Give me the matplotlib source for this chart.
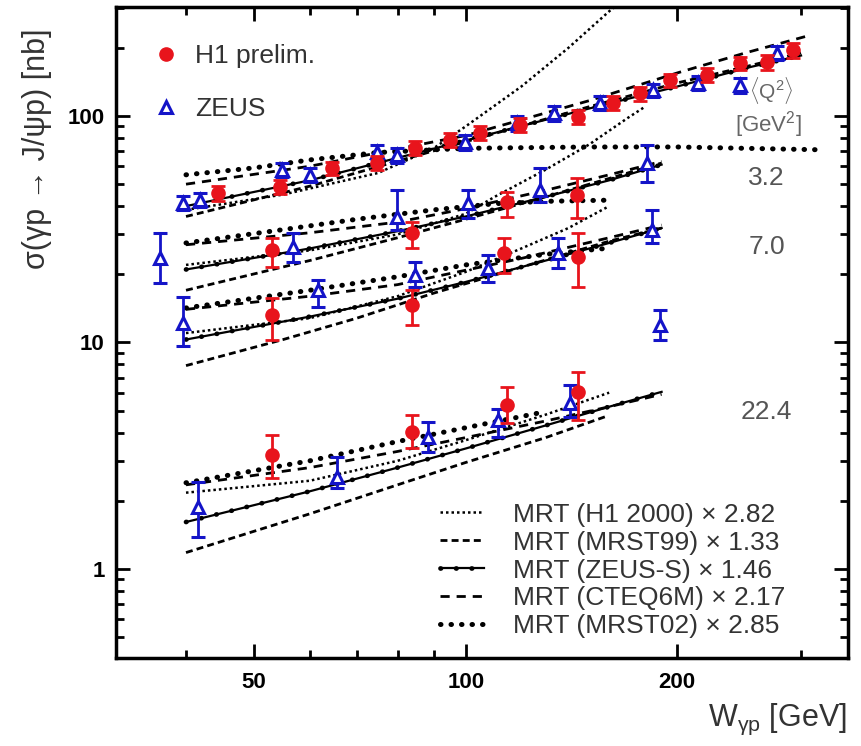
import matplotlib
matplotlib.use('Agg')
import matplotlib.pyplot as plt
from matplotlib.lines import Line2D
from matplotlib.ticker import FixedLocator, NullFormatter, LogLocator

plt.rcParams['font.family'] = ['Liberation Sans', 'DejaVu Sans']
plt.rcParams['mathtext.fontset'] = 'custom'
plt.rcParams['mathtext.rm'] = 'Liberation Sans'
plt.rcParams['mathtext.it'] = 'Liberation Sans:italic'

# H1 prelim. points (all four Q2 bins), value and lower/upper edge of error bar
h1_w = [44.4, 54.4, 64.6, 74.8, 84.7, 95.1, 104.9, 119.6, 144.7, 162.2, 177, 195.3, 220.6, 246, 268.7, 292.5,
        53.0, 83.9, 114.6, 144.2,
        53.0, 83.9, 113.3, 144.5,
        53.0, 83.9, 114.6, 144.5]
h1_sig = [45.7, 48.6, 58.9, 62.0, 72.2, 78.3, 84.1, 91.3, 99, 114, 126, 144, 151.7, 171, 173, 195,
          25.6, 30.4, 41.7, 44.8,
          13.2, 14.6, 24.8, 23.9,
          3.19, 4.03, 5.30, 6.05]
h1_lo = [42.2, 45.1, 54.9, 57.5, 67.2, 72.8, 78.1, 84.8, 92, 106, 117, 134, 140.7, 159, 160, 180,
         21.6, 26.1, 35.8, 35.5,
         10.3, 11.9, 20.3, 17.6,
         2.52, 3.42, 4.41, 4.55]
h1_hi = [49.2, 52.1, 62.9, 66.5, 77.2, 83.8, 90.1, 97.8, 106, 122, 135, 154, 162.7, 183, 186, 210,
         28.9, 33.9, 46.0, 53.3,
         15.7, 17.1, 28.9, 30.4,
         3.91, 4.79, 6.36, 7.41]

# ZEUS points
zeus_w = [39.6, 41.9, 54.8, 60.1, 74.8, 79.8, 99.8, 118.4, 133.4, 155.4, 184.8, 214, 246, 277,
          36.7, 56.8, 79.8, 100.9, 127.6, 181.3,
          39.6, 61.7, 84.7, 107.6, 135.5, 184.2, 189.2,
          41.6, 65.7, 88.4, 111.3, 140.9]
zeus_sig = [41.3, 42.6, 57.8, 54.9, 69.3, 67.3, 76.7, 93.1, 103, 114, 130, 140, 137, 190,
            23.6, 26.4, 35.8, 41.3, 47.1, 62.0,
            12.2, 17.1, 19.9, 21.3, 24.8, 31.4, 11.9,
            1.88, 2.55, 3.83, 4.55, 5.41]
zeus_lo = [38.3, 39.6, 53.8, 50.9, 64.3, 62.3, 70.7, 86.1, 95, 106, 121, 130, 127, 176,
           18.3, 22.6, 31.4, 35.5, 41.7, 51.0,
           9.6, 14.3, 17.6, 18.5, 21.3, 27.5, 10.3,
           1.38, 2.28, 3.27, 3.83, 4.70]
zeus_hi = [44.3, 45.6, 61.8, 58.9, 74.3, 72.3, 82.7, 100.1, 111, 122, 139, 150, 147, 204,
           30.4, 30.4, 47.0, 47.0, 58.9, 74.5,
           15.9, 18.9, 22.6, 24.4, 28.9, 38.4, 13.9,
           2.42, 3.12, 4.47, 5.10, 6.50]

# MRT curves, one list per Q2 bin (top to bottom)
h1fit_w = [[40, 55, 75, 90, 100, 120, 140, 160, 175],
           [40, 60, 80, 100, 110, 130, 150, 170, 180],
           [40, 60, 80, 100, 120, 140, 160],
           [40, 60, 80, 100, 130, 160]]
h1fit_sig = [[38.5, 45, 56, 72, 90, 135, 200, 290, 360],
             [22, 25.5, 30, 37, 44, 58, 75, 98, 110],
             [11, 12.8, 16, 20.5, 26, 32, 40],
             [2.17, 2.45, 3.0, 3.7, 4.8, 6.0]]
mrst99_w = [[40, 60, 100, 150, 200, 250, 300],
            [40, 60, 80, 100, 130, 160, 190],
            [40, 55, 70, 90, 120, 160, 190],
            [40, 60, 80, 100, 130, 158]]
mrst99_sig = [[36, 49, 77, 110, 140, 165, 190],
              [17, 23, 29, 35, 44, 53, 62],
              [7.9, 10.3, 12.8, 16.5, 21.5, 28, 32],
              [1.18, 1.75, 2.35, 2.95, 3.8, 4.7]]
zeuss_w = [[40, 60, 100, 150, 200, 255, 300],
           [40, 60, 80, 100, 130, 160, 190],
           [40, 60, 80, 100, 130, 160, 190],
           [40, 60, 80, 100, 130, 160, 190]]
zeuss_sig = [[40, 52, 78, 108, 135, 165, 185],
             [21, 26, 31, 36, 44, 52, 61],
             [10.3, 13, 15.6, 18.5, 23, 27.5, 32],
             [1.61, 2.2, 2.8, 3.4, 4.3, 5.2, 6.05]]
cteq_w = [[40, 60, 100, 150, 200, 250, 310],
          [40, 60, 80, 100, 130, 160, 190],
          [40, 60, 80, 120, 160, 190],
          [40, 60, 80, 100, 130, 160, 190]]
cteq_sig = [[50, 60, 82, 117, 155, 190, 228],
            [27, 30.5, 34, 39, 47, 55, 63],
            [14, 16, 18, 23.5, 29, 33],
            [2.35, 2.8, 3.3, 3.8, 4.5, 5.2, 5.9]]
mrst02_w = [[40, 50, 60, 75, 100, 150, 200, 250, 315],
            [40, 55, 70, 90, 110, 130, 160],
            [40, 60, 80, 100, 130, 158],
            [40, 60, 80, 100, 130]]
mrst02_sig = [[55, 59, 64, 69, 72, 73, 73, 72, 71],
              [27.5, 31.5, 35, 38.5, 41, 42, 42.5],
              [14.2, 17, 19.5, 22, 24.5, 26],
              [2.4, 3.0, 3.65, 4.2, 4.95]]

q2_labels = ['3.2', '7.0', '22.4']
q2_ypos = [53, 26.4, 4.93]

red = '#e8141c'
blue = '#1414c8'

fig = plt.figure(figsize=(8.61, 7.46), dpi=100)
ax = fig.add_axes([0.1347, 0.118, 0.8503, 0.8726])
ax.set_xscale('log')
ax.set_yscale('log')

dot_kw = dict(color='k', lw=1.8, ls=(0, (1, 1.2)))
dash_kw = dict(color='k', lw=2, ls=(0, (2.5, 1.5)))
line_kw = dict(color='k', lw=1.6, ls='-')
line_dots_kw = dict(color='k', lw=3.4, ls=(0, (0.1, 3.2)), dash_capstyle='round')
long_kw = dict(color='k', lw=2, ls=(0, (3.3, 2.5)))
big_dots_kw = dict(color='k', lw=3.6, ls=(0, (0.1, 2.0)), dash_capstyle='round')

for i in range(4):
    ax.plot(h1fit_w[i], h1fit_sig[i], zorder=2, **dot_kw)
    ax.plot(mrst99_w[i], mrst99_sig[i], zorder=2, **dash_kw)
    ax.plot(zeuss_w[i], zeuss_sig[i], zorder=2, **line_kw)
    ax.plot(zeuss_w[i], zeuss_sig[i], zorder=2, **line_dots_kw)
    ax.plot(cteq_w[i], cteq_sig[i], zorder=2, **long_kw)
    ax.plot(mrst02_w[i], mrst02_sig[i], zorder=2, **big_dots_kw)

h1_err = [[s - l for s, l in zip(h1_sig, h1_lo)], [h - s for s, h in zip(h1_sig, h1_hi)]]
zeus_err = [[s - l for s, l in zip(zeus_sig, zeus_lo)], [h - s for s, h in zip(zeus_sig, zeus_hi)]]

ax.errorbar(zeus_w, zeus_sig, yerr=zeus_err, fmt='^', ms=8, mfc='white', mec=blue, mew=2.2,
            ecolor=blue, elinewidth=2, capsize=5, capthick=2, zorder=5)
ax.errorbar(h1_w, h1_sig, yerr=h1_err, fmt='o', ms=9.5, color=red, ecolor=red,
            elinewidth=2, capsize=5, capthick=2, zorder=6)

ax.set_xlim(31.8, 350)
ax.set_ylim(0.404, 303)

ax.set_xticks([50, 100, 200])
ax.set_xticklabels(['50', '100', '200'], fontweight='bold', fontsize=16)
ax.xaxis.set_minor_locator(FixedLocator([40, 60, 70, 80, 90, 300]))
ax.xaxis.set_minor_formatter(NullFormatter())
ax.set_yticks([1, 10, 100])
ax.set_yticklabels(['1', '10', '100'], fontweight='bold', fontsize=16)
ax.yaxis.set_minor_locator(LogLocator(base=10, subs=range(2, 10)))
ax.yaxis.set_minor_formatter(NullFormatter())

ax.tick_params(which='both', direction='in', top=True, right=True, width=2)
ax.tick_params(which='major', length=10)
ax.tick_params(which='minor', length=6)
ax.tick_params(axis='x', pad=10)
ax.tick_params(axis='y', pad=8)
for sp in ax.spines.values():
    sp.set_linewidth(2.5)

ax.set_ylabel('σ(γp → J/ψp) [nb]', fontsize=22, color='#333333')
ax.yaxis.set_label_coords(-0.088, 0.783)
ax.set_xlabel(r'W$_{\mathrm{γp}}$ [GeV]', fontsize=22, color='#333333', loc='right')
ax.xaxis.set_label_coords(0.998, -0.068)

ax.text(272, 130, r'$\langle\mathrm{Q}^2\rangle$', fontsize=15, color='#666666', ha='center', va='center')
ax.text(270, 92, r'[GeV$^2$]', fontsize=16, color='#666666', ha='center', va='center')
for lab, yv in zip(q2_labels, q2_ypos):
    ax.text(268, yv, lab, fontsize=19, color='#555555', ha='center', va='center')

h1_handle = Line2D([], [], ls='none', marker='o', color=red, ms=9.5)
zeus_handle = Line2D([], [], ls='none', marker='^', mfc='white', mec=blue, mew=2.2, ms=8)
leg1 = ax.legend([h1_handle, zeus_handle], ['H1 prelim.', 'ZEUS'], loc='upper left', frameon=False,
                 fontsize=19, handlelength=1.0, handletextpad=0.6, labelspacing=1.1,
                 borderaxespad=1.0, labelcolor='#333333')
ax.add_artist(leg1)

handles = [Line2D([], [], **dot_kw),
           Line2D([], [], **dash_kw),
           (Line2D([], [], **line_kw), Line2D([], [], **line_dots_kw)),
           Line2D([], [], **long_kw),
           Line2D([], [], **big_dots_kw)]
labels = ['MRT (H1 2000) × 2.82', 'MRT (MRST99) × 1.33', 'MRT (ZEUS-S) × 1.46',
          'MRT (CTEQ6M) × 2.17', 'MRT (MRST02) × 2.85']
ax.legend(handles, labels, loc='lower left', bbox_to_anchor=(0.4426, 0.03), borderpad=0,
          borderaxespad=0, frameon=False, fontsize=19, handlelength=1.65, handletextpad=1.1,
          labelspacing=0.15, labelcolor='#333333')

fig.savefig('out.png', dpi=100)
